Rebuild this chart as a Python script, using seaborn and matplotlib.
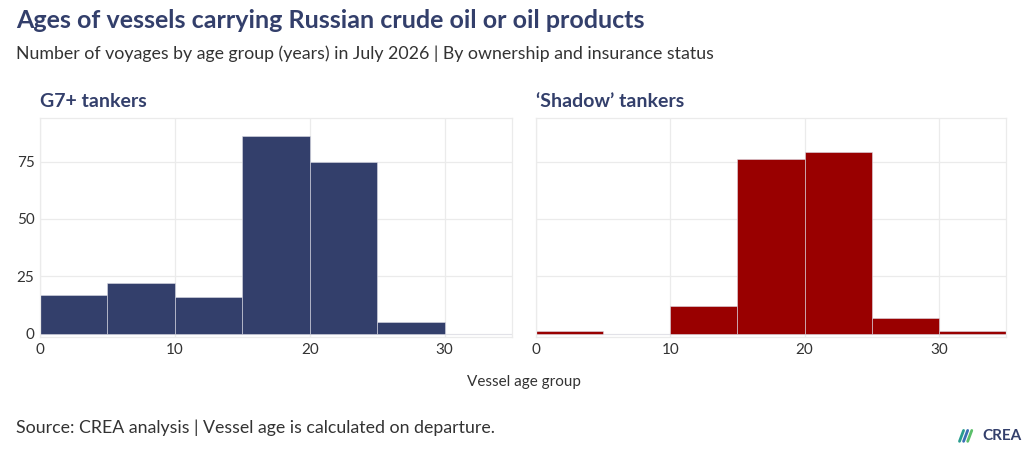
import matplotlib
matplotlib.use("Agg")
import matplotlib.pyplot as plt
import matplotlib.lines as mlines
import pandas as pd
import seaborn as sns

# histogram counts per 5-year age bin (bin start values)
bin_starts = [0, 5, 10, 15, 20, 25, 30]
g7_counts = [17, 22, 16, 86, 75, 5, 0]
shadow_counts = [1, 0, 12, 76, 79, 7, 1]
panel_titles = ["G7+ tankers", "\u2018Shadow\u2019 tankers"]
colors = ["#333f6b", "#990000"]
x_ticks = [0, 10, 20, 30]
y_ticks = [0, 25, 50, 75]

sns.set_theme(style="whitegrid")
plt.rcParams["font.family"] = ["Lato", "DejaVu Sans"]

navy = "#333f6b"
edges = list(range(0, 40, 5))

fig = plt.figure(figsize=(10.24, 4.55), dpi=100)
ax1 = fig.add_axes([0.039, 0.2593, 0.461, 0.4814])
ax2 = fig.add_axes([0.5234, 0.2593, 0.459, 0.4814])

for ax, counts, color, title in zip([ax1, ax2], [g7_counts, shadow_counts], colors, panel_titles):
    df = pd.DataFrame({"age": bin_starts, "n": counts})
    sns.histplot(data=df, x="age", weights="n", bins=edges, ax=ax,
                 color=color, alpha=1, edgecolor="#dcdce6", linewidth=0.4)
    ax.set_xlim(0, 35)
    ax.set_ylim(-1.5, 94)
    ax.set_xticks(x_ticks)
    ax.set_yticks(y_ticks)
    ax.set_xlabel("")
    ax.set_ylabel("")
    ax.grid(True, color="#ebebeb", linewidth=0.9)
    for s in ax.spines.values():
        s.set_visible(True)
        s.set_color("#ebebeb")
        s.set_linewidth(0.9)
    ax.tick_params(axis="both", labelsize=11, colors="#333333", length=0, pad=4)
    ax.set_title(title, loc="left", fontsize=14, fontweight="bold", color=navy, pad=8)
    ax.set_axisbelow(True)

ax2.set_yticklabels([])

fig.text(0.016, 0.955, "Ages of vessels carrying Russian crude oil or oil products",
         fontsize=18, fontweight="bold", color=navy, va="center")
fig.text(0.016, 0.883, "Number of voyages by age group (years) in July 2026 | By ownership and insurance status",
         fontsize=12.8, color="#333333", va="center")
fig.text(0.512, 0.16, "Vessel age group", fontsize=11, color="#333333", ha="center", va="center")
fig.text(0.016, 0.059, "Source: CREA analysis | Vessel age is calculated on departure.",
         fontsize=12.8, color="#333333", va="center")

# small CREA logo
fig.text(0.998, 0.042, "CREA", fontsize=11, fontweight="bold", color=navy, ha="right", va="center")
for dx, c in [(0, "#2a9d8f"), (0.004, "#3b6fb6"), (0.008, "#5bbf6a")]:
    fig.add_artist(mlines.Line2D([0.937 + dx, 0.941 + dx], [0.030, 0.054], color=c, linewidth=2,
                                 transform=fig.transFigure))

fig.savefig("out.png", dpi=100)
